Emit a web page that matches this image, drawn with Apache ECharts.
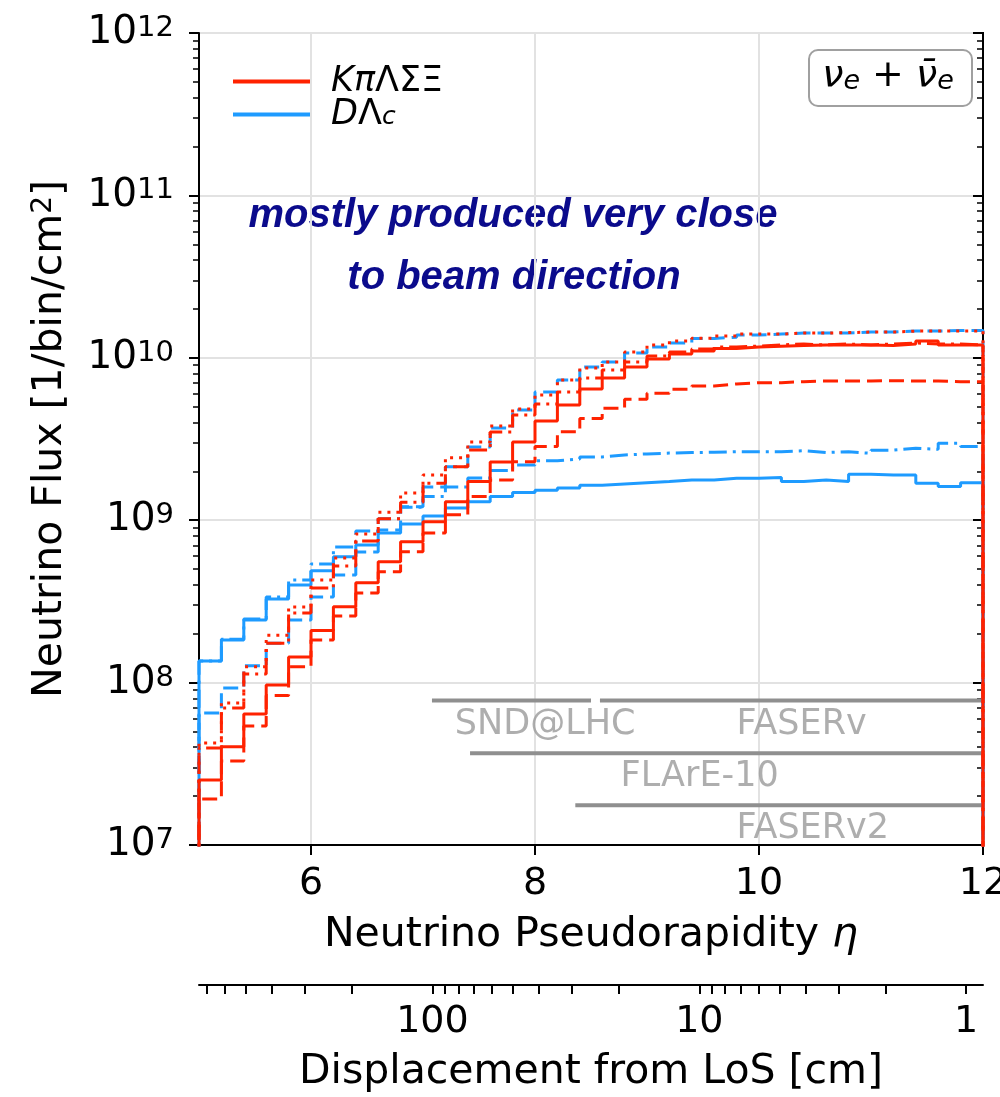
<!DOCTYPE html>
<html><head><meta charset="utf-8">
<script src="https://cdn.jsdelivr.net/npm/echarts@6/dist/echarts.min.js"></script>
<style>html,body{margin:0;padding:0;background:#fff}#c{width:1000px;height:1097px}</style>
</head><body><div id="c"></div>
<script>
// ---- bin edges (pseudorapidity) ----
const etaEdges = [5.0,5.2,5.4,5.6,5.8,6.0,6.2,6.4,6.6,6.8,7.0,7.2,7.4,7.6,7.8,8.0,8.2,8.4,8.6,8.8,9.0,9.2,9.4,9.6,9.8,10.0,10.2,10.4,10.6,10.8,11.0,11.2,11.4,11.6,11.8,12.0];

// ---- light hadrons (K pi Lambda Sigma Xi), red ----
const lightSolid = [2.51e7,4.03e7,6.41e7,9.66e7,1.44e8,2.09e8,2.93e8,4.12e8,5.55e8,7.37e8,9.79e8,1.30e9,1.73e9,2.28e9,3.03e9,4.08e9,5.12e9,6.43e9,7.51e9,8.78e9,9.83e9,1.055e10,1.10e10,1.14e10,1.166e10,1.18e10,1.19e10,1.20e10,1.20e10,1.20e10,1.19e10,1.216e10,1.27e10,1.20e10,1.20e10];
const lightDashed = [1.92e7,3.29e7,5.40e7,8.33e7,1.25e8,1.83e8,2.57e8,3.56e8,4.82e8,6.40e8,8.34e8,1.08e9,1.40e9,1.77e9,2.29e9,2.84e9,3.51e9,4.23e9,4.89e9,5.55e9,6.05e9,6.40e9,6.71e9,6.90e9,7.03e9,7.03e9,7.13e9,7.20e9,7.20e9,7.20e9,7.23e9,7.20e9,7.20e9,7.13e9,7.13e9];
const lightDotted = [4.25e7,7.49e7,1.25e8,1.96e8,2.92e8,4.28e8,5.85e8,8.22e8,1.12e9,1.47e9,1.90e9,2.42e9,3.03e9,3.80e9,4.84e9,5.90e9,7.30e9,8.65e9,9.42e9,1.085e10,1.20e10,1.27e10,1.32e10,1.36e10,1.40e10,1.40e10,1.42e10,1.42e10,1.43e10,1.44e10,1.44e10,1.46e10,1.46e10,1.46e10,1.46e10];
const lightDashDot = [3.96e7,6.98e7,1.13e8,1.75e8,2.68e8,3.82e8,5.22e8,7.45e8,1.02e9,1.29e9,1.69e9,2.13e9,2.71e9,3.49e9,4.44e9,5.19e9,6.16e9,7.51e9,8.41e9,9.42e9,1.026e10,1.085e10,1.133e10,1.166e10,1.18e10,1.20e10,1.216e10,1.20e10,1.216e10,1.20e10,1.216e10,1.234e10,1.216e10,1.216e10,1.20e10];

// ---- charm hadrons (D Lambda_c), blue ----
const charmSolid = [1.36e8,1.83e8,2.43e8,3.27e8,3.99e8,4.89e8,5.96e8,7.03e8,8.34e8,9.48e8,1.06e9,1.19e9,1.30e9,1.40e9,1.48e9,1.53e9,1.58e9,1.64e9,1.67e9,1.70e9,1.73e9,1.77e9,1.77e9,1.81e9,1.81e9,1.83e9,1.73e9,1.77e9,1.73e9,1.92e9,1.90e9,1.90e9,1.69e9,1.61e9,1.70e9];
const charmDashed = [6.50e7,9.26e7,1.27e8,1.75e8,2.43e8,3.37e8,4.60e8,6.37e8,8.70e8,1.21e9,1.60e9,2.13e9,2.82e9,3.70e9,4.77e9,6.16e9,7.30e9,8.78e9,9.42e9,1.07e10,1.166e10,1.234e10,1.315e10,1.34e10,1.38e10,1.40e10,1.42e10,1.42e10,1.42e10,1.44e10,1.44e10,1.46e10,1.46e10,1.473e10,1.473e10];
const charmDashDot = [1.36e8,1.85e8,2.46e8,3.37e8,4.28e8,5.38e8,6.84e8,8.58e8,1.02e9,1.20e9,1.40e9,1.60e9,1.82e9,2.02e9,2.19e9,2.32e9,2.38e9,2.45e9,2.52e9,2.56e9,2.59e9,2.61e9,2.62e9,2.64e9,2.64e9,2.64e9,2.68e9,2.61e9,2.64e9,2.58e9,2.70e9,2.77e9,2.73e9,2.98e9,2.84e9];

// ---- legend names ----
const lightName = 'KπΛΣΞ';
const charmName = 'DΛc';

// ---- detector coverage bands ----
const detectorNames   = ['SND@LHC', 'FASERv', 'FLArE-10', 'FASERv2'];
const detectorEtaMin  = [7.08, 8.58, 7.42, 8.36];
const detectorEtaMax  = [8.50, 12.0, 12.0, 12.0];
const detectorLevel   = [7.75e7, 7.75e7, 3.67e7, 1.76e7];
const detectorLabelEta   = [8.09, 10.38, 9.47, 10.48];
const detectorLabelLevel = [5.5e7, 5.5e7, 2.63e7, 1.25e7];

// ---- ticks ----
const etaTicks = [6, 8, 10, 12];
const yDecades = [1e7, 1e8, 1e9, 1e10, 1e11, 1e12];
const yMinorMultipliers = [2, 3, 4, 5, 6, 7, 8, 9];
const dispMajor = [100, 10, 1];
const dispMinor = [700, 600, 500, 400, 300, 200, 90, 80, 70, 60, 50, 40, 30, 20, 9, 8, 7, 6, 5, 4, 3, 2];
// secondary axis scale: displacement (cm) <-> eta
const ETA_AT_1CM = 11.85;
const ETA_PER_DECADE = 2.383;
const dispToEta = d => ETA_AT_1CM - ETA_PER_DECADE * Math.log10(d);
const etaToDisp = e => Math.pow(10, (ETA_AT_1CM - e) / ETA_PER_DECADE);

const yMinor = [];
yDecades.slice(0, -1).forEach(d => yMinorMultipliers.forEach(m => yMinor.push(m * d)));

const RED = '#ff2200', BLUE = '#1e9bff';
const FLOOR = 1e5;
function stepData(vals) {
  const n = vals.length;
  const pts = [[etaEdges[0], FLOOR]];
  vals.forEach((v, i) => pts.push([etaEdges[i], v]));
  pts.push([etaEdges[n], vals[n - 1]]);
  pts.push([etaEdges[n], FLOOR]);
  return pts;
}
const DASHED = [15, 7], DOTTED = [3, 6], DASHDOT = [18, 6, 3, 6];
function hist(name, vals, color, type) {
  return {
    name, type: 'line', step: 'end', data: stepData(vals), symbol: 'none', clip: true,
    xAxisIndex: 0, yAxisIndex: 0, silent: true,
    lineStyle: { color, width: 3, type, cap: 'butt' }, itemStyle: { color }
  };
}
const FONT = 'DejaVu Sans';
const series = [
  hist(charmName, charmSolid, BLUE, 'solid'),
  hist(charmName, charmDashed, BLUE, DASHED),
  hist(charmName, charmDashDot, BLUE, DASHDOT),
  hist(lightName, lightSolid, RED, 'solid'),
  hist(lightName, lightDashed, RED, DASHED),
  hist(lightName, lightDotted, RED, DOTTED),
  hist(lightName, lightDashDot, RED, DASHDOT)
];
detectorNames.forEach((n, i) => {
  series.push({
    type: 'line', name: 'det' + i, silent: true, symbol: 'none', z: 1,
    data: [[detectorEtaMin[i], detectorLevel[i]], [detectorEtaMax[i], detectorLevel[i]]],
    lineStyle: { color: '#8f8f8f', width: 4, cap: 'butt' }
  });
});
series.push({
  type: 'scatter', name: 'detLabels', silent: true, symbolSize: 1,
  itemStyle: { color: 'rgba(0,0,0,0)' },
  data: detectorLabelEta.map((e, i) => [e, detectorLabelLevel[i]]),
  label: { show: true, position: 'inside', formatter: p => detectorNames[p.dataIndex],
           fontFamily: FONT, fontSize: 35, color: '#9a9a9a' }
});

const tickStyle = { color: '#000', width: 2 };
const legendRich = {
  i: { fontFamily: FONT, fontStyle: 'italic', fontSize: 35, lineHeight: 30, color: '#000' },
  u: { fontFamily: FONT, fontSize: 35, lineHeight: 30, color: '#000' },
  g: { width: 16, lineHeight: 30 },
  s: { fontFamily: FONT, fontStyle: 'italic', fontSize: 25, lineHeight: 16, verticalAlign: 'bottom', color: '#000' }
};
const option = {
  animation: false,
  backgroundColor: '#fff',
  grid: { left: 199, right: 17, top: 33, bottom: 252, containLabel: false, outerBoundsMode: 'none',
          show: true, borderColor: '#000', borderWidth: 2, backgroundColor: 'rgba(0,0,0,0)' },
  legend: {
    data: [lightName, charmName], orient: 'vertical', left: 228, top: 59,
    itemWidth: 77, itemHeight: 4, itemGap: -2, icon: 'rect', selectedMode: false,
    formatter: n => n === charmName ? '{g|}{i|D}{u|Λ}{s|c}' : '{g|}{i|Kπ}{u|ΛΣΞ}',
    textStyle: { color: '#000', rich: legendRich }
  },
  xAxis: [
    {
      type: 'value', min: 5, max: 12, position: 'bottom',
      axisLine: { show: true, onZero: false, lineStyle: tickStyle },
      axisTick: { show: true, customValues: etaTicks, length: 10, lineStyle: tickStyle },
      axisLabel: { customValues: etaTicks, margin: 20, fontSize: 38, fontFamily: FONT, color: '#000' },
      splitLine: { show: true, lineStyle: { color: '#e2e2e2', width: 2 } },
      name: '{a|Neutrino Pseudorapidity }{i|η}', nameLocation: 'middle', nameGap: 70,
      nameTextStyle: { rich: { a: { fontSize: 41, fontFamily: FONT, color: '#000' }, i: { fontSize: 41, fontFamily: FONT, fontStyle: 'italic', color: '#000' } } }
    },
    {
      type: 'value', min: 5, max: 12, position: 'bottom', offset: 140,
      axisLine: { show: true, onZero: false, lineStyle: tickStyle },
      axisTick: { show: true, customValues: dispMajor.concat(dispMinor).map(dispToEta), length: 9, lineStyle: tickStyle },
      axisLabel: { customValues: dispMajor.map(dispToEta), formatter: v => String(Math.round(etaToDisp(v))), margin: 18, fontSize: 38, fontFamily: FONT, color: '#000' },
      splitLine: { show: false },
      name: 'Displacement from LoS [cm]', nameLocation: 'middle', nameGap: 67,
      nameTextStyle: { fontSize: 41, fontFamily: FONT, color: '#000' }
    }
  ],
  yAxis: [
    {
      type: 'log', logBase: 10, min: 1e7, max: 1e12, position: 'left',
      axisLine: { show: true, lineStyle: tickStyle },
      axisTick: { show: true, length: 10, lineStyle: tickStyle },
      axisLabel: {
        margin: 25, formatter: v => '{b|10}{e|' + Math.round(Math.log10(v)) + '}',
        rich: {
          b: { fontFamily: FONT, fontSize: 39, lineHeight: 38, color: '#000' },
          e: { fontFamily: FONT, fontSize: 29, lineHeight: 20, verticalAlign: 'top', color: '#000' }
        }
      },
      splitLine: { show: true, lineStyle: { color: '#e2e2e2', width: 2 } },
      name: '{a|Neutrino Flux [1/bin/cm}{s|2}{a|]}', nameLocation: 'middle', nameGap: 128, nameRotate: 90,
      nameTextStyle: { rich: {
        a: { fontSize: 41, fontFamily: FONT, lineHeight: 41, color: '#000' },
        s: { fontSize: 28, fontFamily: FONT, lineHeight: 22, verticalAlign: 'top', color: '#000' } } }
    },
    {
      type: 'log', logBase: 10, min: 1e7, max: 1e12, position: 'left',
      axisLine: { show: false }, axisLabel: { show: false }, splitLine: { show: false },
      axisTick: { show: true, customValues: yMinor, length: 6, lineStyle: { color: '#000', width: 1.5 } }
    },
    {
      type: 'log', logBase: 10, min: 1e7, max: 1e12, position: 'right',
      axisLine: { show: true, lineStyle: tickStyle }, axisLabel: { show: false }, splitLine: { show: false },
      axisTick: { show: true, inside: true, customValues: yDecades, length: 10, lineStyle: tickStyle }
    },
    {
      type: 'log', logBase: 10, min: 1e7, max: 1e12, position: 'right',
      axisLine: { show: false }, axisLabel: { show: false }, splitLine: { show: false },
      axisTick: { show: true, inside: true, customValues: yMinor, length: 6, lineStyle: { color: '#000', width: 1.5 } }
    }
  ],
  graphic: [
    { type: 'text', x: 513, y: 216, style: { text: 'mostly produced very close', font: 'italic bold 40px "Liberation Sans"', fill: '#0b0b8c', align: 'center', verticalAlign: 'middle' } },
    { type: 'text', x: 514, y: 278, style: { text: 'to beam direction', font: 'italic bold 40px "Liberation Sans"', fill: '#0b0b8c', align: 'center', verticalAlign: 'middle' } },
    { type: 'rect', shape: { x: 809, y: 50, width: 163, height: 56, r: 9 }, style: { fill: '#fff', stroke: '#a0a0a0', lineWidth: 2 }, z: 10 },
    { type: 'text', x: 888, y: 76, z: 11, style: {
        text: '{v|ν}{s|e}{p| + }{v|ν̄}{s|e}', align: 'center', verticalAlign: 'middle',
        rich: {
          v: { fontFamily: FONT, fontStyle: 'italic', fontSize: 38, lineHeight: 38, fill: '#000' },
          p: { fontFamily: FONT, fontSize: 38, lineHeight: 38, fill: '#000' },
          s: { fontFamily: FONT, fontStyle: 'italic', fontSize: 27, lineHeight: 20, verticalAlign: 'bottom', fill: '#000' }
        } } }
  ],
  series
};
const chart = echarts.init(document.getElementById('c'), null, { renderer: 'canvas' });
chart.setOption(option);
</script>
</body></html>
